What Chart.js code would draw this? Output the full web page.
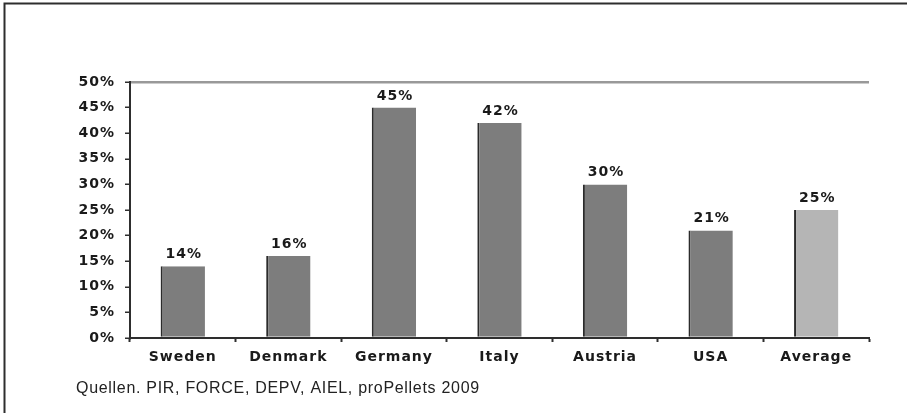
<!DOCTYPE html>
<html>
<head>
<meta charset="utf-8">
<script src="https://cdn.jsdelivr.net/npm/chart.js@4/dist/chart.umd.min.js"></script>
<style>
  html, body { margin: 0; padding: 0; background: #ffffff; }
  #wrap { position: relative; width: 907px; height: 413px; }
</style>
</head>
<body>
<div id="wrap"><canvas id="chart" width="907" height="413"></canvas></div>
<script>
// Pellet heating share by country
const categories = ['Sweden', 'Denmark', 'Germany', 'Italy', 'Austria', 'USA', 'Average'];
const shares = [14, 16, 45, 42, 30, 21, 25];
const barColors = ['#7d7d7d', '#7d7d7d', '#7d7d7d', '#7d7d7d', '#7d7d7d', '#7d7d7d', '#b5b5b5'];
const sourceNote = 'Quellen. PIR, FORCE, DEPV, AIEL, proPellets 2009';

const BOLD = 'bold 14px "DejaVu Sans", sans-serif';
const SPACING = '1px';

// Wide-spaced bold text for every label the chart draws
const spacingPlugin = {
  id: 'spacing',
  beforeDraw(chart) {
    chart.ctx.letterSpacing = SPACING;
  }
};

// Frame, value labels and source line
const decorPlugin = {
  id: 'decor',
  afterDraw(chart) {
    const ctx = chart.ctx;
    ctx.save();
    // frame
    ctx.strokeStyle = '#2e2e2e';
    ctx.lineWidth = 2;
    ctx.beginPath();
    ctx.moveTo(4.5, 413);
    ctx.lineTo(4.5, 3.5);
    ctx.lineTo(907, 3.5);
    ctx.stroke();

    // value labels above bars
    ctx.letterSpacing = SPACING;
    ctx.font = BOLD;
    ctx.fillStyle = '#1a1a1a';
    ctx.textAlign = 'center';
    ctx.textBaseline = 'alphabetic';
    const meta = chart.getDatasetMeta(0);
    meta.data.forEach((bar, i) => {
      ctx.fillText(shares[i] + '%', bar.x + 1, bar.y - 8);
    });

    // source line
    ctx.letterSpacing = '0.7px';
    ctx.font = '16px "Liberation Sans", Arial, sans-serif';
    ctx.fillStyle = '#222';
    ctx.textAlign = 'left';
    ctx.fillText(sourceNote, 76, 393);
    ctx.restore();
  }
};

new Chart(document.getElementById('chart'), {
  type: 'bar',
  data: {
    labels: categories,
    datasets: [{
      data: shares,
      backgroundColor: barColors,
      borderColor: '#2b2b2b',
      borderWidth: { left: 2, top: 0, right: 0, bottom: 0 },
      borderSkipped: false,
      categoryPercentage: 1,
      barPercentage: 0.42
    }]
  },
  options: {
    responsive: false,
    animation: false,
    devicePixelRatio: 1,
    layout: { padding: { left: 0, top: 82, right: 38, bottom: 0 } },
    plugins: {
      legend: { display: false },
      tooltip: { enabled: false }
    },
    scales: {
      x: {
        offset: true,
        afterFit(scale) { scale.height = 75; },
        border: { color: '#2e2e2e', width: 2 },
        grid: {
          offset: true,
          drawOnChartArea: false,
          drawTicks: true,
          tickLength: 4,
          tickWidth: 2,
          tickColor: '#2e2e2e'
        },
        ticks: {
          color: '#1a1a1a',
          font: { family: '"DejaVu Sans", sans-serif', size: 14, weight: 'bold' },
          padding: 7,
          maxRotation: 0
        }
      },
      y: {
        min: 0,
        max: 50,
        afterFit(scale) { scale.width = 130; },
        border: { color: '#2e2e2e', width: 2 },
        grid: {
          drawTicks: true,
          tickLength: 5,
          tickWidth: 1.5,
          tickColor: '#2e2e2e',
          lineWidth: 2.5,
          color: (c) => (c.tick && c.tick.value === 50 ? '#999999' : 'rgba(0,0,0,0)')
        },
        ticks: {
          stepSize: 5,
          color: '#1a1a1a',
          font: { family: '"DejaVu Sans", sans-serif', size: 14, weight: 'bold' },
          padding: 10,
          callback: (v) => v + '%'
        }
      }
    }
  },
  plugins: [spacingPlugin, decorPlugin]
});
</script>
</body>
</html>
